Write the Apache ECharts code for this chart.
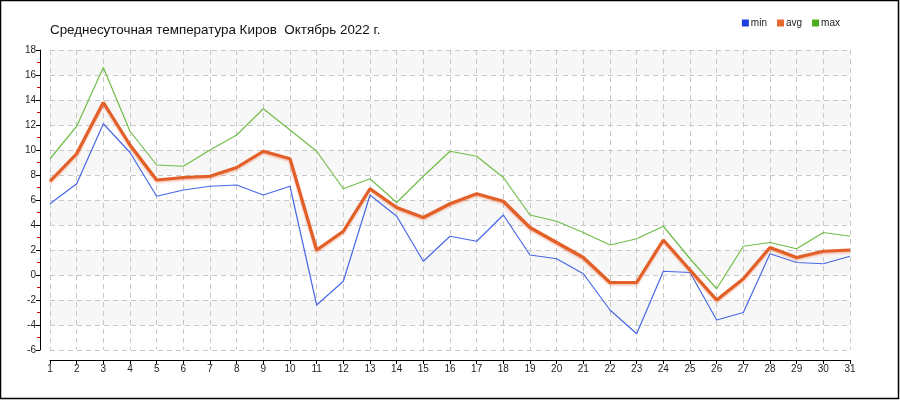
<!DOCTYPE html>
<html><head><meta charset="utf-8">
<script src="https://cdn.jsdelivr.net/npm/echarts@6/dist/echarts.min.js"></script>
<style>html,body{margin:0;padding:0;background:#fff}#c{width:900px;height:400px}</style>
</head><body><div id="c"></div>
<script>
const days = ['1','2','3','4','5','6','7','8','9','10','11','12','13','14','15','16','17','18','19','20','21','22','23','24','25','26','27','28','29','30','31'];
const minVals = [5.7,7.3,12.1,9.8,6.3,6.8,7.1,7.2,6.4,7.1,-2.4,-0.5,6.4,4.7,1.1,3.1,2.7,4.8,1.6,1.3,0.1,-2.8,-4.7,0.3,0.2,-3.6,-3.0,1.7,1.0,0.9,1.5];
const avgVals = [7.5,9.7,13.8,10.4,7.6,7.8,7.9,8.6,9.9,9.3,2.0,3.5,6.9,5.4,4.6,5.7,6.5,5.9,3.8,2.6,1.4,-0.6,-0.6,2.8,0.4,-2.0,-0.3,2.2,1.4,1.9,2.0];
const maxVals = [9.3,11.9,16.6,11.5,8.8,8.7,10.0,11.2,13.3,11.6,9.9,6.9,7.7,5.8,7.9,9.9,9.5,7.8,4.8,4.3,3.4,2.4,2.9,3.9,1.3,-1.1,2.3,2.6,2.1,3.4,3.1];
const seriesNames = ['min','avg','max'];
const titleText = 'Среднесуточная температура Киров  Октябрь 2022 г.';

const chart = echarts.init(document.getElementById('c'), null, {renderer:'canvas'});
const lblFont = {color:'#222', fontSize:10, fontFamily:'Liberation Sans'};
chart.setOption({
  animation:false,
  backgroundColor:'#fff',
  title:{text:titleText, left:45, top:19, textStyle:{fontFamily:'Liberation Sans', fontSize:13.4, fontWeight:'normal', color:'#111'}},
  legend:{right:55, top:13, icon:'rect', itemWidth:7, itemHeight:7, itemGap:10,
    textStyle:{fontFamily:'Liberation Sans', fontSize:10, color:'#222', padding:[0,0,0,-3]},
    data:seriesNames},
  grid:{left:50, right:50, top:50, bottom:50},
  graphic:[{type:'rect', shape:{x:0.5,y:0.5,width:898,height:398}, style:{fill:'none', stroke:'#000', lineWidth:1.5}, silent:true}],
  xAxis:{type:'category', data:days, boundaryGap:false, offset:10,
    axisLine:{onZero:false, lineStyle:{color:'#000', width:1}},
    axisTick:{show:true, length:4, inside:false, lineStyle:{color:'#000'}},
    axisLabel:Object.assign({margin:4, interval:0}, lblFont),
    splitLine:{show:true, lineStyle:{color:'#c8c8c8', type:[5,4], width:1}}},
  yAxis:{type:'value', min:-6, max:18, interval:2, offset:10,
    axisLine:{show:true, onZero:false, lineStyle:{color:'#000', width:1}},
    axisTick:{show:true, length:4, lineStyle:{color:'#000'}},
    minorTick:{show:true, splitNumber:2, length:3, lineStyle:{color:'#e00000'}},
    axisLabel:Object.assign({margin:4}, lblFont),
    splitLine:{show:true, lineStyle:{color:'#c8c8c8', type:[5,4], width:1}},
    splitArea:{show:true, areaStyle:{color:['#ffffff','#f7f7f7']}}},
  series:[
    {name:'min', type:'line', data:minVals, symbol:'none', z:2,
      itemStyle:{color:'#1e3fe0'}, lineStyle:{color:'#4868e6', width:1.2}},
    {name:'avg', type:'line', data:avgVals, symbol:'none', z:4,
      itemStyle:{color:'#e8682f'}, lineStyle:{color:'#e25f28', width:3.2, shadowColor:'rgba(235,120,80,0.45)', shadowBlur:2, shadowOffsetY:1.5}},
    {name:'max', type:'line', data:maxVals, symbol:'none', z:3,
      itemStyle:{color:'#4cae1c'}, lineStyle:{color:'#70bd48', width:1.2}}
  ]
});
</script></body></html>
